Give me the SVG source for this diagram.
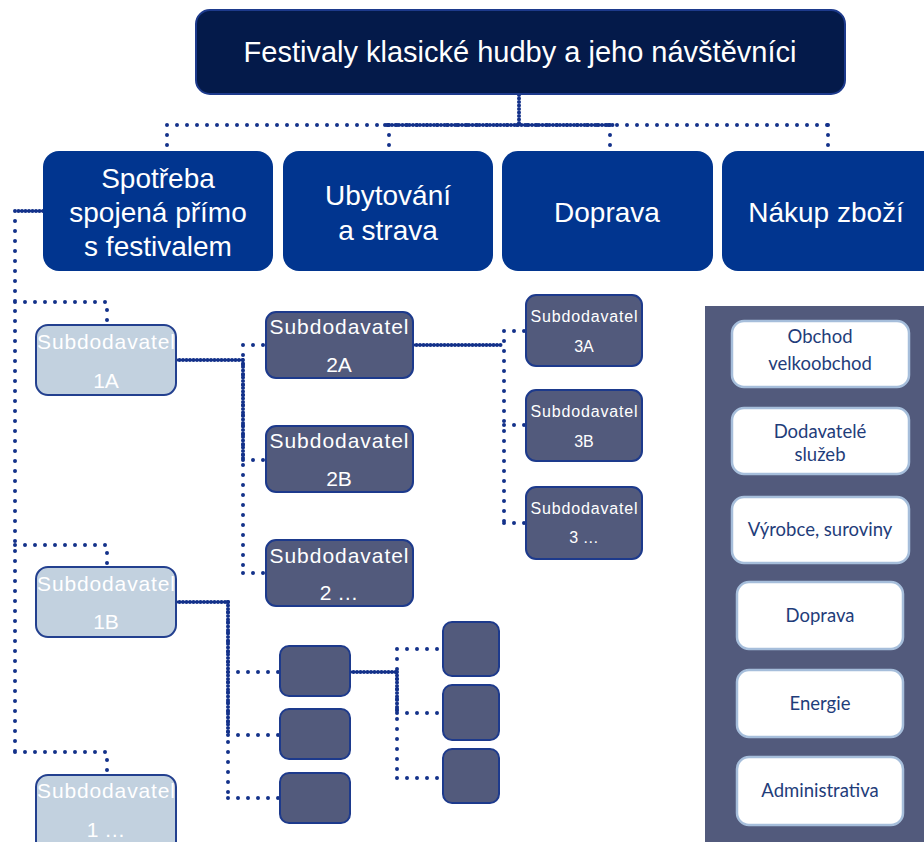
<svg xmlns="http://www.w3.org/2000/svg" width="924" height="842" viewBox="0 0 924 842">
<style>
.t{font-family:"Liberation Sans",Arial,sans-serif;fill:#fff;text-anchor:middle}
.s{font-size:21px}
.lvl{fill:#01358f}
.dk{fill:#525a7c;stroke:#1d3a8c;stroke-width:2}
.lt{fill:#c2d1df;stroke:#23408f;stroke-width:2}
.wb{fill:#fff;stroke:#a6bedb;stroke-width:2.5}
.wt{font-family:Lato,"Open Sans",sans-serif;font-size:18.5px;fill:#1f3d7a;text-anchor:middle}
.sp{fill:none;stroke:#13318a;stroke-width:4;stroke-linecap:round;stroke-dasharray:0 10}
.dn{fill:none;stroke:#13318a;stroke-width:4;stroke-linecap:round;stroke-dasharray:0 3.5}
</style>
<rect width="924" height="842" fill="#fff"/>
<g id="connectors">
<path class="dn" d="M519,95 V125 M385,125 H615"/>
<path class="sp" d="M167,125 H828 M167,125 V150 M389,125 V150 M610,125 V150 M828,125 V150"/>
<path class="dn" d="M43,211 H15"/>
<path class="sp" d="M15,211 V752 M15,302 H107 V325 M15,545 H107 V567 M15,752 H107 V775"/>
<path class="dn" d="M176,360 H243 M243,360 V460"/>
<path class="sp" d="M243,345 V573 M243,345 H266 M243,460 H266 M243,573 H266"/>
<path class="dn" d="M413,345 H504"/>
<path class="sp" d="M504,331 V523 M504,331 H526 M504,425 H526 M504,523 H526"/>
<path class="dn" d="M176,602 H228 M228,602 V735"/>
<path class="sp" d="M228,602 V798 M228,672 H280 M228,735 H280 M228,798 H280"/>
<path class="dn" d="M350,672 H397 M397,672 V713"/>
<path class="sp" d="M397,649 V778 M397,649 H443 M397,713 H443 M397,778 H443"/>
</g>
<g id="root">
<rect x="196" y="10" width="649" height="84" rx="14" fill="#041a4a" stroke="#1d3a8c" stroke-width="2"/>
<text class="t" x="520" y="62" font-size="29">Festivaly klasické hudby a jeho návštěvníci</text>
</g>
<g id="spotreba">
<rect class="lvl" x="43" y="151" width="230" height="120" rx="16"/>
<text class="t" font-size="28"><tspan x="158" y="188">Spotřeba</tspan><tspan x="158" y="222">spojená přímo</tspan><tspan x="158" y="256">s festivalem</tspan></text>
</g>
<g id="ubytovani">
<rect class="lvl" x="283" y="151" width="210" height="120" rx="16"/>
<text class="t" font-size="28"><tspan x="388" y="205">Ubytování</tspan><tspan x="388" y="240">a strava</tspan></text>
</g>
<g id="doprava">
<rect class="lvl" x="502" y="151" width="211" height="120" rx="16"/>
<text class="t" x="607" y="222" font-size="28">Doprava</text>
</g>
<g id="nakup">
<rect class="lvl" x="722" y="151" width="220" height="120" rx="16"/>
<text class="t" x="826" y="222" font-size="28">Nákup zboží</text>
</g>
<g id="s1A">
<rect class="lt" x="36" y="325" width="140" height="70" rx="12"/>
<text class="t s" x="106" y="349" textLength="138" lengthAdjust="spacing">Subdodavatel</text>
<text class="t s" x="106" y="388">1A</text>
</g>
<g id="s1B">
<rect class="lt" x="36" y="567" width="140" height="70" rx="12"/>
<text class="t s" x="106" y="591" textLength="138" lengthAdjust="spacing">Subdodavatel</text>
<text class="t s" x="106" y="629">1B</text>
</g>
<g id="s1x">
<rect class="lt" x="36" y="775" width="140" height="80" rx="12"/>
<text class="t s" x="106" y="798" textLength="138" lengthAdjust="spacing">Subdodavatel</text>
<text class="t s" x="106" y="837">1 …</text>
</g>
<g id="s2A">
<rect class="dk" x="266" y="312" width="147" height="66" rx="10"/>
<text class="t s" x="339" y="334" textLength="139" lengthAdjust="spacing">Subdodavatel</text>
<text class="t s" x="339" y="372">2A</text>
</g>
<g id="s2B">
<rect class="dk" x="266" y="426" width="147" height="66" rx="10"/>
<text class="t s" x="339" y="448" textLength="139" lengthAdjust="spacing">Subdodavatel</text>
<text class="t s" x="339" y="486">2B</text>
</g>
<g id="s2x">
<rect class="dk" x="266" y="540" width="147" height="66" rx="10"/>
<text class="t s" x="339" y="563" textLength="139" lengthAdjust="spacing">Subdodavatel</text>
<text class="t s" x="339" y="600">2 …</text>
</g>
<g id="s3A">
<rect class="dk" x="526" y="295" width="116" height="71" rx="10"/>
<text class="t" x="584" y="322" font-size="16" textLength="107" lengthAdjust="spacing">Subdodavatel</text>
<text class="t" x="584" y="352" font-size="16">3A</text>
</g>
<g id="s3B">
<rect class="dk" x="526" y="390" width="116" height="71" rx="10"/>
<text class="t" x="584" y="417" font-size="16" textLength="107" lengthAdjust="spacing">Subdodavatel</text>
<text class="t" x="584" y="447" font-size="16">3B</text>
</g>
<g id="s3x">
<rect class="dk" x="526" y="487" width="116" height="72" rx="10"/>
<text class="t" x="584" y="514" font-size="16" textLength="107" lengthAdjust="spacing">Subdodavatel</text>
<text class="t" x="584" y="543" font-size="16">3 …</text>
</g>
<g id="b1"><rect class="dk" x="280" y="646" width="70" height="50" rx="9"/></g>
<g id="b2"><rect class="dk" x="280" y="709" width="70" height="50" rx="9"/></g>
<g id="b3"><rect class="dk" x="280" y="773" width="70" height="50" rx="9"/></g>
<g id="c1"><rect class="dk" x="443" y="622" width="56" height="54" rx="9"/></g>
<g id="c2"><rect class="dk" x="443" y="685" width="56" height="55" rx="9"/></g>
<g id="c3"><rect class="dk" x="443" y="749" width="56" height="54" rx="9"/></g>
<g id="panel">
<rect x="705" y="306" width="219" height="536" fill="#525a7c"/>
</g>
<g id="obchod">
<rect class="wb" x="732" y="321" width="177" height="66" rx="12"/>
<text class="wt"><tspan x="820" y="343">Obchod</tspan><tspan x="820" y="370">velkoobchod</tspan></text>
</g>
<g id="dodavatele">
<rect class="wb" x="732" y="408" width="177" height="66" rx="12"/>
<text class="wt"><tspan x="820" y="438">Dodavatelé</tspan><tspan x="820" y="461">služeb</tspan></text>
</g>
<g id="vyrobce">
<rect class="wb" x="732" y="497" width="177" height="66" rx="12"/>
<text class="wt" x="820" y="536">Výrobce, suroviny</text>
</g>
<g id="doprava2">
<rect class="wb" x="737" y="582" width="166" height="67" rx="12"/>
<text class="wt" x="820" y="622">Doprava</text>
</g>
<g id="energie">
<rect class="wb" x="737" y="670" width="166" height="67" rx="12"/>
<text class="wt" x="820" y="710">Energie</text>
</g>
<g id="administrativa">
<rect class="wb" x="737" y="757" width="166" height="68" rx="12"/>
<text class="wt" x="820" y="797">Administrativa</text>
</g>
</svg>
